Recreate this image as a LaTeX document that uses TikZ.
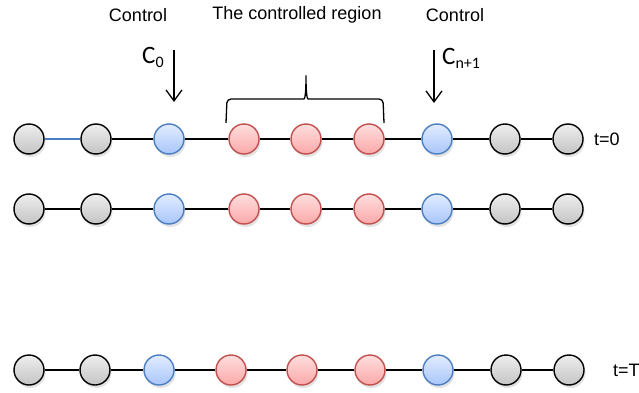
\documentclass[tikz,border=0pt]{standalone}
\usepackage{fontspec}
\setmainfont{Liberation Sans}
\newfontfamily\calibri{Carlito}
\usetikzlibrary{arrows.meta,
	shadows}

\definecolor{blueline}{RGB}{74,126,193}
\definecolor{redline}{RGB}{192,80,77}
\definecolor{graytop}{RGB}{238,238,238}
\definecolor{graybot}{RGB}{196,196,196}
\definecolor{bluetop}{RGB}{226,236,255}
\definecolor{bluebot}{RGB}{168,198,250}
\definecolor{redtop}{RGB}{255,222,222}
\definecolor{redbot}{RGB}{250,168,168}

\tikzset{
	site/.style={circle, draw=black, line width=1.4pt, minimum size=30pt, inner sep=0pt,
		top color=graytop, bottom color=graybot,
		drop shadow={opacity=0.22, shadow xshift=1.5pt, shadow yshift=-3pt}},
	gsite/.style={site},
	bsite/.style={site, draw=blueline, top color=bluetop, bottom color=bluebot},
	rsite/.style={site, draw=redline, top color=redtop, bottom color=redbot},
	bond/.style={line width=1.2pt},
	ctrlarrow/.style={-{Straight Barb[length=11pt,width=16pt]}, line width=1.3pt},
	lbl/.style={inner sep=0pt, font=\fontsize{18}{20}\selectfont}
}
\newcommand{\ctrlname}[1]{{\calibri\fontsize{25}{27}\selectfont C\raisebox{-4pt}{\fontsize{16}{16}\selectfont #1}}}

\begin{document}
\begin{tikzpicture}[x=1pt, y=-1pt]
	\useasboundingbox (0,0) rectangle (639,393);
	% sites, t=0 and the next step
	\foreach \n/\x/\kind in {1/29/gsite, 2/96/gsite, 3/169/bsite, 4/244/rsite, 5/306/rsite, 6/369/rsite, 7/437/bsite, 8/505/gsite, 9/568/gsite} {
		\node[\kind] (a\n) at (\x,139) {};
		\node[\kind] (b\n) at (\x,209) {};
	}
	% sites, t=T
	\foreach \n/\x/\kind in {1/29/gsite, 2/95/gsite, 3/159/bsite, 4/231/rsite, 5/302/rsite, 6/370/rsite, 7/438/bsite, 8/506/gsite, 9/569/gsite}
		\node[\kind] (c\n) at (\x,370) {};
	% bonds
	\draw[bond, blueline] (a1) -- (a2);
	\foreach \i/\j in {2/3, 3/4, 4/5, 5/6, 6/7, 7/8, 8/9}
		\draw[bond] (a\i) -- (a\j);
	\foreach \i/\j in {1/2, 2/3, 3/4, 4/5, 5/6, 6/7, 7/8, 8/9} {
		\draw[bond] (b\i) -- (b\j);
		\draw[bond] (c\i) -- (c\j);
	}
	\node[lbl, anchor=west] (t0) at (594,139) {t=0};
	\node[lbl, anchor=west] (tT) at (613,370) {t=T};
	% headings
	\node[lbl] (ctrlL) at (138,15) {Control};
	\node[lbl] (region) at (297,15) {The controlled region};
	\node[lbl] (ctrlR) at (455,15) {Control};
	% control inputs
	\node[inner sep=0pt, anchor=base west] (cfirst) at (142,64) {\ctrlname{0}};
	\node[inner sep=0pt, anchor=base west] (clast) at (442,65) {\ctrlname{n+1}};
	\coordinate (p0) at (174,50);
	\coordinate (q0) at (174,102);
	\coordinate (p1) at (434,50);
	\coordinate (q1) at (434,103);
	\draw[ctrlarrow] (p0) -- (q0);
	\draw[ctrlarrow] (p1) -- (q1);
	% brace over the controlled region
	\draw[line width=1.3pt, rounded corners=4pt] (226,123) -- (227,99) -- (300,99)
		.. controls (305,99) and (306,92) .. (306,73)
		.. controls (306,92) and (307,99) .. (312,99) -- (383,99) -- (384,123);
\end{tikzpicture}
\end{document}
